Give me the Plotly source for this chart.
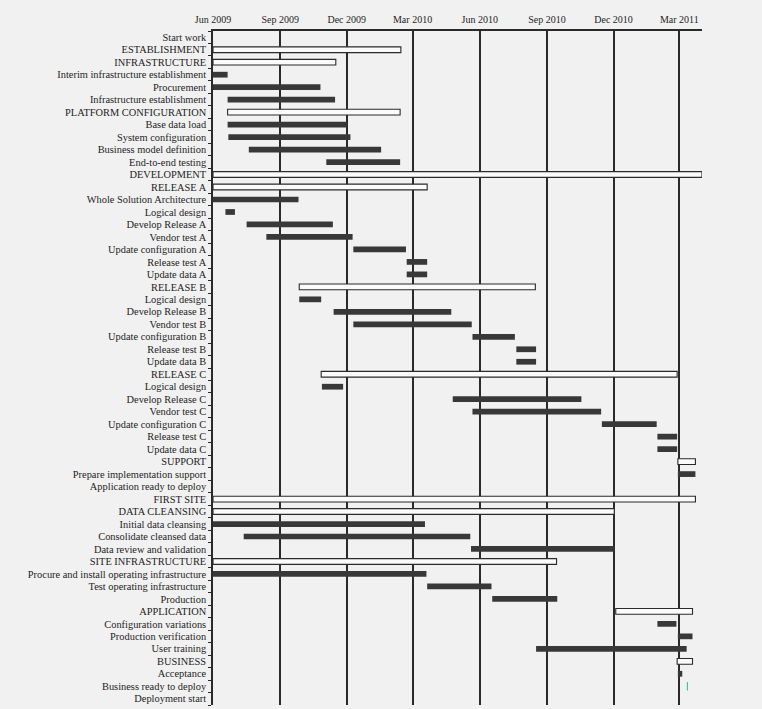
import pandas as pd
import plotly.graph_objects as go

labels = ["Start work", "ESTABLISHMENT", "INFRASTRUCTURE", "Interim infrastructure establishment",
          "Procurement", "Infrastructure establishment", "PLATFORM CONFIGURATION", "Base data load",
          "System configuration", "Business model definition", "End-to-end testing", "DEVELOPMENT",
          "RELEASE A", "Whole Solution Architecture", "Logical design", "Develop Release A",
          "Vendor test A", "Update configuration A", "Release test A", "Update data A",
          "RELEASE B", "Logical design", "Develop Release B", "Vendor test B",
          "Update configuration B", "Release test B", "Update data B",
          "RELEASE C", "Logical design", "Develop Release C", "Vendor test C",
          "Update configuration C", "Release test C", "Update data C",
          "SUPPORT", "Prepare implementation support", "Application ready to deploy",
          "FIRST SITE", "DATA CLEANSING", "Initial data cleansing", "Consolidate cleansed data",
          "Data review and validation", "SITE INFRASTRUCTURE",
          "Procure and install operating infrastructure", "Test operating infrastructure",
          "Production", "APPLICATION", "Configuration variations", "Production verification",
          "User training", "BUSINESS", "Acceptance", "Business ready to deploy", "Deployment start"]

kinds = ["none", "summary", "summary", "task", "task", "task", "summary", "task",
         "task", "task", "task", "summary",
         "summary", "task", "task", "task",
         "task", "task", "task", "task",
         "summary", "task", "task", "task",
         "task", "task", "task",
         "summary", "task", "task", "task",
         "task", "task", "task",
         "summary", "task", "none",
         "summary", "summary", "task", "task",
         "task", "summary",
         "task", "task",
         "task", "summary", "task", "task",
         "task", "summary", "task", "milestone", "none"]

starts = [None, "2009-06-01", "2009-06-01", "2009-06-01", "2009-06-01", "2009-06-21", "2009-06-21",
          "2009-06-21", "2009-06-22", "2009-07-20", "2009-11-03", "2009-06-01",
          "2009-06-01", "2009-06-01", "2009-06-18", "2009-07-17", "2009-08-13", "2009-12-10",
          "2010-02-21", "2010-02-21",
          "2009-09-27", "2009-09-27", "2009-11-13", "2009-12-10", "2010-05-22", "2010-07-21",
          "2010-07-21",
          "2009-10-27", "2009-10-28", "2010-04-25", "2010-05-22", "2010-11-15", "2011-01-30",
          "2011-01-30",
          "2011-02-27", "2011-02-27", None,
          "2009-06-01", "2009-06-01", "2009-06-01", "2009-07-13", "2010-05-20", "2009-06-01",
          "2009-06-01", "2010-03-21", "2010-06-18", "2010-12-04", "2011-01-30", "2011-02-27",
          "2010-08-17", "2011-02-26", "2011-02-27", "2011-03-12", None]

ends = [None, "2010-02-13", "2009-11-16", "2009-06-21", "2009-10-26", "2009-11-15", "2010-02-12",
        "2009-12-01", "2009-12-06", "2010-01-17", "2010-02-12", "2011-04-01",
        "2010-03-21", "2009-09-26", "2009-07-01", "2009-11-12", "2009-12-09", "2010-02-20",
        "2010-03-21", "2010-03-21",
        "2010-08-16", "2009-10-27", "2010-04-23", "2010-05-21", "2010-07-19", "2010-08-17",
        "2010-08-17",
        "2011-02-26", "2009-11-26", "2010-10-18", "2010-11-14", "2011-01-29", "2011-02-26",
        "2011-02-26",
        "2011-03-23", "2011-03-23", None,
        "2011-03-23", "2010-12-02", "2010-03-18", "2010-05-19", "2010-12-02", "2010-09-14",
        "2010-03-20", "2010-06-17", "2010-09-15", "2011-03-19", "2011-02-25", "2011-03-19",
        "2011-03-11", "2011-03-19", "2011-03-05", "2011-03-12", None]

tick_dates = ["2009-06-01", "2009-09-01", "2009-12-01", "2010-03-01",
              "2010-06-01", "2010-09-01", "2010-12-01", "2011-03-01"]
tick_labels = ["Jun 2009", "Sep 2009", "Dec 2009", "Mar 2010",
               "Jun 2010", "Sep 2010", "Dec 2010", "Mar 2011"]

df = pd.DataFrame({"label": labels, "kind": kinds, "start": starts, "end": ends})
df["row"] = range(len(df))
df["start_dt"] = pd.to_datetime(df["start"])
df["end_dt"] = pd.to_datetime(df["end"])
df["dur"] = (df["end_dt"] - df["start_dt"]).dt.total_seconds() * 1000

FONT = "Liberation Serif, Times New Roman, serif"
INK = "#2a2a2a"
BG = "#f1f1f1"

fig = go.Figure()

summ = df[df.kind == "summary"]
fig.add_trace(go.Bar(
    orientation="h", y=summ["row"], base=summ["start"], x=summ["dur"],
    width=0.46, marker=dict(color="#fbfbfb", line=dict(color=INK, width=1.1)),
    hoverinfo="skip", showlegend=False))

task = df[df.kind == "task"]
fig.add_trace(go.Bar(
    orientation="h", y=task["row"], base=task["start"], x=task["dur"],
    width=0.46, marker=dict(color="#383838", line=dict(width=0)),
    hoverinfo="skip", showlegend=False))

ms = df[df.kind == "milestone"]
fig.add_trace(go.Scatter(
    x=ms["start"], y=ms["row"], mode="markers",
    marker=dict(symbol="line-ns-open", size=6, line=dict(color=INK, width=1)),
    hoverinfo="skip", showlegend=False))

fig.update_layout(
    width=762, height=709,
    margin=dict(l=213, r=60, t=31, b=4),
    paper_bgcolor=BG, plot_bgcolor=BG,
    font=dict(family=FONT, size=10.4, color="#1e1e1e"),
    barmode="overlay",
)
fig.update_xaxes(
    type="date", side="top", range=["2009-06-01", "2011-04-01"],
    tickvals=tick_dates, ticktext=tick_labels, ticks="",
    ticklabelstandoff=2,
    showgrid=True, gridcolor=INK, gridwidth=1.5,
    showline=True, linecolor=INK, linewidth=1.5, zeroline=False,
    tickfont=dict(family=FONT, size=10, color="#1e1e1e"),
)
fig.update_yaxes(
    range=[len(labels) - 0.5, -0.5],
    tickvals=list(df["row"]), ticktext=labels, ticks="",
    ticklabelstandoff=3,
    showgrid=False, zeroline=False,
    showline=True, linecolor=INK, linewidth=1.5,
    tickfont=dict(family=FONT, size=10.4, color="#1e1e1e"),
    minor=dict(ticks="outside", ticklen=3, tick0=-0.5, dtick=1, tickcolor=INK, showgrid=False),
)

fig.write_html(
    "out.html",
    config={"displayModeBar": False},
    post_script="document.body.style.margin='0';document.body.style.background='#f1f1f1';",
)
